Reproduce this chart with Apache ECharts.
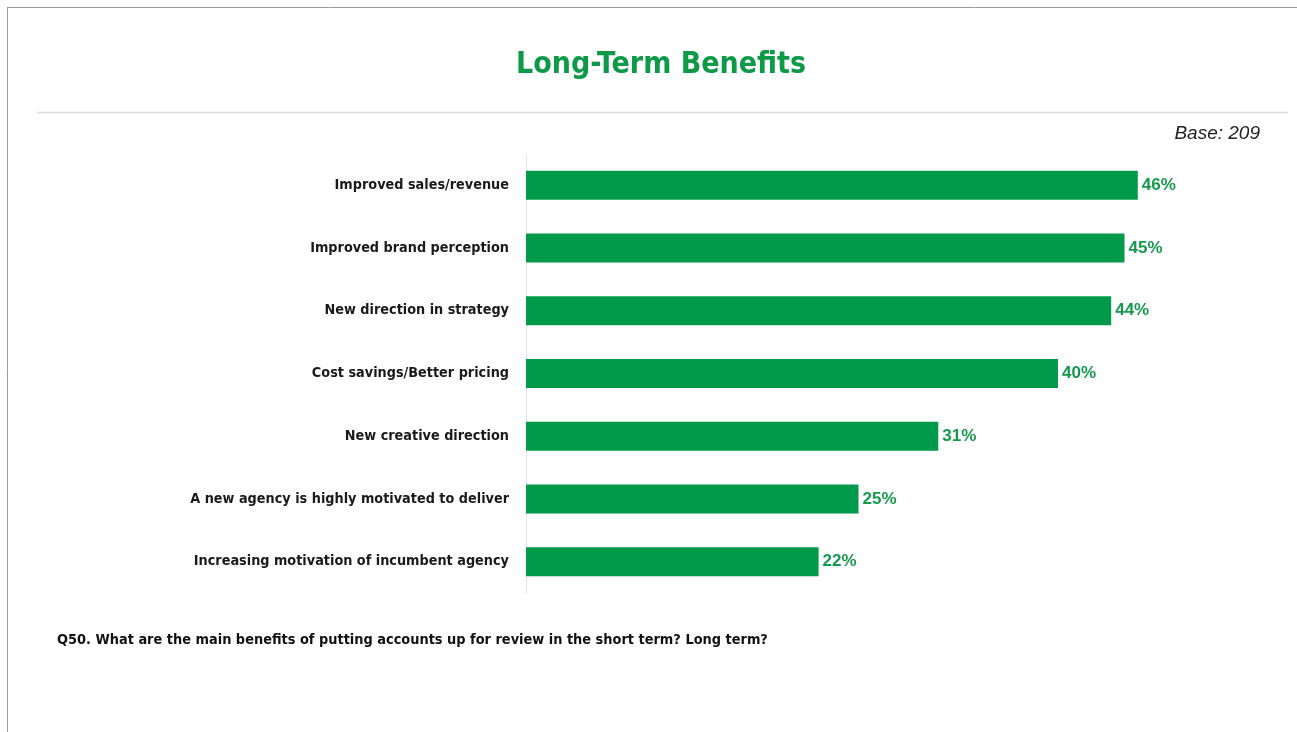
<!DOCTYPE html>
<html>
<head>
<meta charset="utf-8">
<script src="https://cdn.jsdelivr.net/npm/echarts@6/dist/echarts.min.js"></script>
<style>
  html, body { margin: 0; padding: 0; background: #ffffff; }
  #chart { width: 1297px; height: 732px; }
</style>
</head>
<body>
<div id="chart"></div>
<script>
// Long-term benefits of putting accounts up for review (share of respondents, %)
const categories = [
  'Improved sales/revenue',
  'Improved brand perception',
  'New direction in strategy',
  'Cost savings/Better pricing',
  'New creative direction',
  'A new agency is highly motivated to deliver',
  'Increasing motivation of incumbent agency'
];
const values = [46, 45, 44, 40, 31, 25, 22];

const titleText = 'Long-Term Benefits';
const baseText = 'Base: 209';
const footnoteText = 'Q50. What are the main benefits of putting accounts up for review in the short term? Long term?';

const condensed = '"Liberation Sans Narrow", "DejaVu Sans Condensed", "Liberation Sans", sans-serif';
const green = '#009a4a';
const labelGreen = '#16994f';

const chart = echarts.init(document.getElementById('chart'), null, { renderer: 'canvas' });

chart.setOption({
  backgroundColor: '#ffffff',
  animation: false,
  title: {
    text: titleText,
    left: 511,
    top: 45,
    textStyle: {
      fontFamily: condensed,
      fontWeight: 'bold',
      fontSize: 30,
      color: '#0d9a48'
    }
  },
  graphic: [
    // page frame (top and left edges)
    { type: 'line', shape: { x1: 7, y1: 7.5, x2: 1297, y2: 7.5 }, style: { stroke: '#9a9a9a', lineWidth: 1 } },
    { type: 'line', shape: { x1: 7.5, y1: 7, x2: 7.5, y2: 732 }, style: { stroke: '#9a9a9a', lineWidth: 1 } },
    // separator under the title
    { type: 'line', shape: { x1: 37, y1: 112.5, x2: 1288, y2: 112.5 }, style: { stroke: '#dcdcdc', lineWidth: 1.5 } },
    {
      type: 'text', right: 37, top: 124,
      style: { text: baseText, font: 'italic 19px "Liberation Sans", Arial, sans-serif', fill: '#222222' }
    },
    {
      type: 'text', left: 57, top: 633,
      style: { text: footnoteText, font: 'bold 14.4px ' + condensed, fill: '#111111' }
    }
  ],
  grid: {
    left: 526,
    top: 154,
    width: 665,
    height: 439,
    containLabel: false
  },
  xAxis: {
    type: 'value',
    min: 0,
    max: 50,
    show: false
  },
  yAxis: {
    type: 'category',
    data: categories,
    inverse: true,
    axisLine: { show: true, lineStyle: { color: '#e6e0e0', width: 1 } },
    axisTick: { show: false },
    axisLabel: {
      margin: 17,
      fontFamily: condensed,
      fontWeight: 'bold',
      fontSize: 14.3,
      color: '#1a1a1a'
    }
  },
  series: [{
    type: 'bar',
    data: values,
    barWidth: 29,
    itemStyle: { color: green },
    label: {
      show: true,
      position: 'right',
      distance: 4,
      formatter: '{c}%',
      fontFamily: '"Liberation Sans", Arial, sans-serif',
      fontWeight: 'bold',
      fontSize: 17,
      color: labelGreen
    }
  }]
});
</script>
</body>
</html>
